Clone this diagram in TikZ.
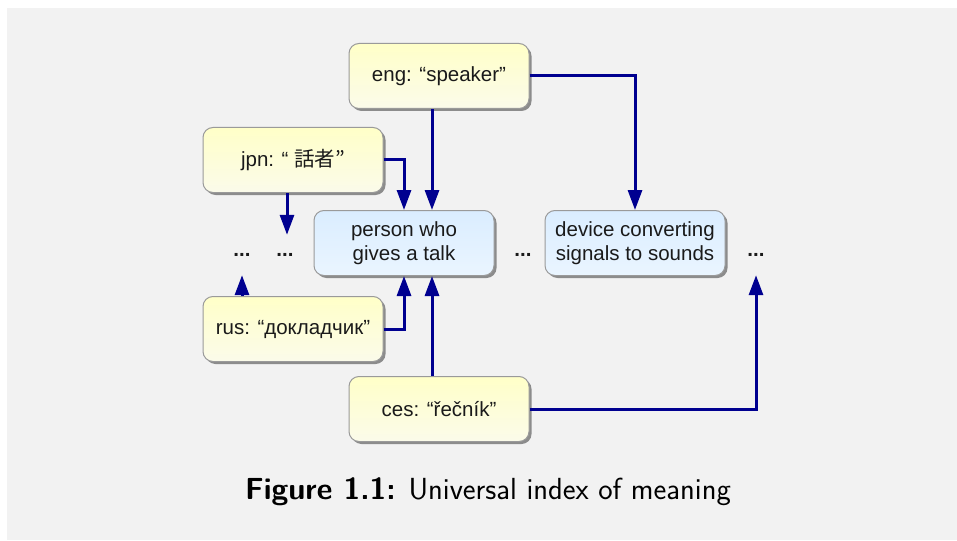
\documentclass[tikz,border=0pt]{standalone}
\usepackage{fontspec}
\setmainfont{Liberation Sans}
\newfontfamily\cjk{Noto Sans CJK JP}
\newfontfamily\capfont{Latin Modern Sans}
\usetikzlibrary{arrows.meta,shadows,calc}
\definecolor{bgc}{HTML}{F2F2F2}
\definecolor{ytop}{HTML}{FFFFC8}
\definecolor{ybot}{HTML}{FBFBEA}
\definecolor{btop}{HTML}{DAEDFF}
\definecolor{bbot}{HTML}{EAF5FF}
\definecolor{bord}{HTML}{9A9A9A}
\definecolor{navyc}{HTML}{000090}
\definecolor{txt}{HTML}{1A1A1A}
\tikzset{
  box/.style={draw=bord, line width=1pt, rounded corners=10pt, minimum width=180pt,
    minimum height=65pt, align=center, text=txt, font=\fontsize{20.5}{24}\selectfont,
    drop shadow={shadow xshift=2.5pt, shadow yshift=-2.5pt, fill=black!45, opacity=1}},
  ybox/.style={box, top color=ytop, bottom color=ybot},
  bbox/.style={box, top color=btop, bottom color=bbot},
  dots/.style={font=\fontsize{20.5}{24}\selectfont\bfseries, text=txt, inner sep=0pt,
    text height=3pt, text depth=0pt, minimum height=40pt},
  arr/.style={draw=navyc, line width=3pt, -{Triangle[length=20pt,width=14pt]}}
}
\begin{document}
\begin{tikzpicture}[x=1pt,y=-1pt]
\useasboundingbox (0,0) rectangle (957,540);
\fill[white] (0,0) rectangle (957,540);
\fill[bgc] (7,8) rectangle (957,540);
\node[ybox] (eng) at (439,76) {eng: “speaker”};
\node[ybox] (jpn) at (293,160) {jpn: “ {\cjk 話者”}};
\node[bbox] (person) at (404,243) {person who\\gives a talk};
\node[bbox] (device) at (635,243) {device converting\\signals to sounds};
\node[ybox] (rus) at (293,329) {rus: “докладчик”};
\node[ybox] (ces) at (439,409) {ces: “řečník”};
\node[dots] (d1) at (242,255) {...};
\node[dots] (d2) at (285,255) {...};
\node[dots] (d3) at (523,255) {...};
\node[dots] (d4) at (756,255) {...};
\draw[arr] ([xshift=-7pt]eng.south) -- ([xshift=-7pt]eng.south |- person.north);
\draw[arr] (eng.east) -| (device.north);
\draw[arr] (jpn.east) -| (person.north);
\draw[arr] ([xshift=-6pt]jpn.south) -- ([xshift=-6pt]jpn.south |- d2.north);
\draw[arr] (rus.north -| d1) -- (d1.south);
\draw[arr] (rus.east) -| (person.south);
\draw[arr] ([xshift=-7pt]ces.north) -- ([xshift=-7pt]ces.north |- person.south);
\draw[arr] (ces.east) -| (d4.south);
\node[font=\capfont\fontsize{30.5}{34}\selectfont, text=black] (cap) at (488,492)
  {{\bfseries Figure 1.1:} Universal index of meaning};
\end{tikzpicture}
\end{document}
